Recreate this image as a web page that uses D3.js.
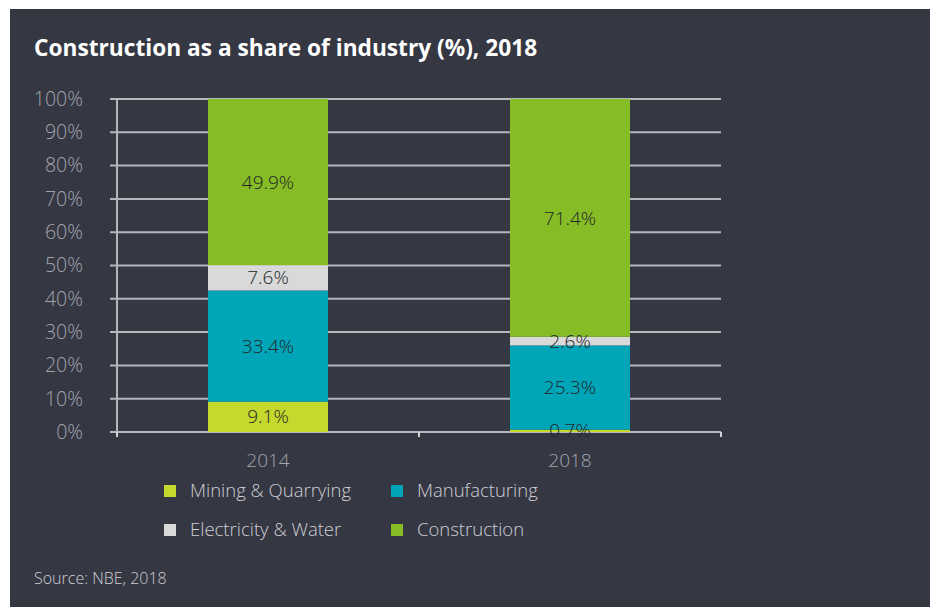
<!DOCTYPE html>
<html>
<head>
<meta charset="utf-8">
<script src="https://cdnjs.cloudflare.com/ajax/libs/d3/7.8.5/d3.min.js"></script>
<style>
  body { margin: 0; background: #fff; }
  text { font-family: "Open Sans", sans-serif; }
</style>
</head>
<body>
<div id="chartDiv"></div>
<script>
  // data
  const years = ['2014', '2018'];
  const sectors = ['Mining & Quarrying', 'Manufacturing', 'Electricity & Water', 'Construction'];
  const mining = [9.1, 0.7];
  const manufacturing = [33.4, 25.3];
  const electricity = [7.6, 2.6];
  const construction = [49.9, 71.4];
  const yTicks = [0, 10, 20, 30, 40, 50, 60, 70, 80, 90, 100];

  const colors = ['#c5d82e', '#00a5b8', '#d9d9d9', '#86bc25'];

  const W = 934, H = 607;
  const svg = d3.select('#chartDiv').append('svg')
    .attr('width', W).attr('height', H);

  // dark panel
  svg.append('rect')
    .attr('x', 10).attr('y', 9)
    .attr('width', 920).attr('height', H - 9)
    .attr('fill', '#353743');

  svg.append('text')
    .attr('x', 34).attr('y', 56)
    .attr('fill', '#fff')
    .attr('font-size', 22.7).attr('font-weight', 700)
    .text('Construction as a share of industry (%), 2018');

  const x = d3.scaleBand().domain(years).range([117, 721]);
  const y = d3.scaleLinear().domain([0, 100]).range([432, 99]);
  const barW = 120;

  // gridlines
  svg.append('g').selectAll('line')
    .data(yTicks)
    .enter().append('line')
    .attr('x1', 110).attr('x2', 721)
    .attr('y1', d => y(d)).attr('y2', d => y(d))
    .attr('stroke', '#b4b6bc').attr('stroke-width', 2);

  // y axis line
  svg.append('line')
    .attr('x1', 117).attr('x2', 117)
    .attr('y1', y(100)).attr('y2', y(0) + 5)
    .attr('stroke', '#b4b6bc').attr('stroke-width', 2);

  // x axis ticks
  svg.append('g').selectAll('line')
    .data([117, 419, 721])
    .enter().append('line')
    .attr('x1', d => d).attr('x2', d => d)
    .attr('y1', y(0)).attr('y2', y(0) + 5)
    .attr('stroke', '#d0d2d6').attr('stroke-width', 2);

  // y tick labels
  svg.append('g').selectAll('text')
    .data(yTicks)
    .enter().append('text')
    .attr('x', 83).attr('y', d => y(d))
    .attr('dy', '0.35em')
    .attr('text-anchor', 'end')
    .attr('fill', '#a3a5ad')
    .attr('font-size', 19.5).attr('font-weight', 300)
    .text(d => d + '%');

  // x labels
  svg.append('g').selectAll('text')
    .data(years)
    .enter().append('text')
    .attr('x', d => x(d) + x.bandwidth() / 2)
    .attr('y', 467)
    .attr('text-anchor', 'middle')
    .attr('fill', '#a3a5ad')
    .attr('font-size', 19).attr('font-weight', 300)
    .text(d => d);

  // stacked bars
  const rows = years.map((yr, i) => ({
    year: yr,
    'Mining & Quarrying': mining[i],
    'Manufacturing': manufacturing[i],
    'Electricity & Water': electricity[i],
    'Construction': construction[i]
  }));
  const stack = d3.stack().keys(sectors)(rows);

  const layers = svg.append('g').selectAll('g')
    .data(stack)
    .enter().append('g')
    .attr('fill', (d, i) => colors[i]);

  layers.selectAll('rect')
    .data(d => d)
    .enter().append('rect')
    .attr('x', d => x(d.data.year) + (x.bandwidth() - barW) / 2)
    .attr('width', barW)
    .attr('y', d => y(d[1]))
    .attr('height', d => y(d[0]) - y(d[1]));

  const labels = svg.append('g').selectAll('g')
    .data(stack)
    .enter().append('g');

  labels.selectAll('text')
    .data(d => d.map(v => ({ v: v, key: d.key })))
    .enter().append('text')
    .attr('x', d => x(d.v.data.year) + x.bandwidth() / 2)
    .attr('y', d => y((d.v[0] + d.v[1]) / 2))
    .attr('dy', '0.35em')
    .attr('text-anchor', 'middle')
    .attr('fill', '#23252b')
    .attr('font-size', 19).attr('font-weight', 300)
    .text(d => d.v.data[d.key].toFixed(1) + '%');

  // legend
  const legendPos = [[164, 491], [391, 491], [164, 530], [391, 530]];
  const legend = svg.append('g').selectAll('g')
    .data(sectors)
    .enter().append('g')
    .attr('transform', (d, i) => `translate(${legendPos[i][0]},${legendPos[i][1]})`);

  legend.append('rect')
    .attr('x', 0).attr('y', -6)
    .attr('width', 12).attr('height', 12)
    .attr('fill', (d, i) => colors[i]);

  legend.append('text')
    .attr('x', 26).attr('y', 0)
    .attr('dy', '0.35em')
    .attr('fill', '#cdcfd4')
    .attr('font-size', 18.5).attr('font-weight', 300)
    .text(d => d);

  svg.append('text')
    .attr('x', 34).attr('y', 584)
    .attr('fill', '#cdcfd4')
    .attr('font-size', 16).attr('font-weight', 300)
    .text('Source: NBE, 2018');
</script>
</body>
</html>
